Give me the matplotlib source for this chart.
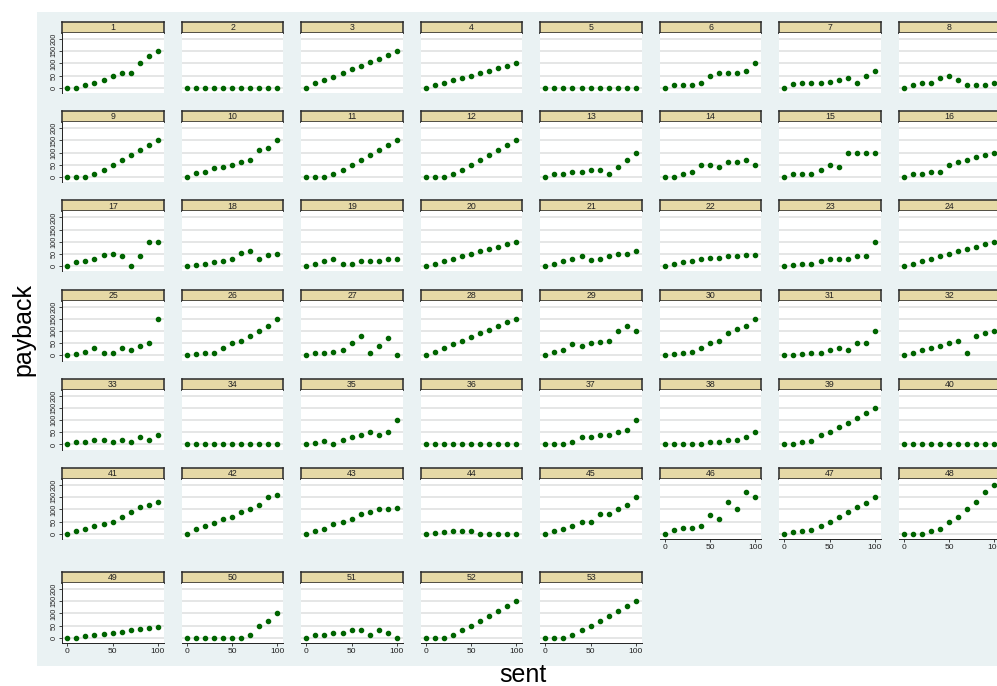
import numpy as np
import matplotlib
matplotlib.use("Agg")
import matplotlib.pyplot as plt
from matplotlib.patches import Rectangle

plt.rcParams['font.family'] = ['Liberation Sans', 'DejaVu Sans']

# amount sent, same for every unit
sent = [0, 10, 20, 30, 40, 50, 60, 70, 80, 90, 100]

# payback per unit
pay_01 = [0, 0, 10, 20, 30, 50, 60, 60, 100, 130, 150]
pay_02 = [0, 0, 0, 0, 0, 0, 0, 0, 0, 0, 0]
pay_03 = [0, 20, 30, 45, 60, 75, 90, 105, 120, 135, 150]
pay_04 = [0, 10, 20, 30, 40, 50, 60, 70, 80, 90, 100]
pay_05 = [0, 0, 0, 0, 0, 0, 0, 0, 0, 0, 0]
pay_06 = [0, 10, 10, 10, 20, 50, 60, 60, 60, 70, 100]
pay_07 = [0, 15, 20, 20, 20, 25, 30, 40, 20, 50, 70]
pay_08 = [0, 10, 20, 20, 40, 50, 30, 10, 10, 10, 20]
pay_09 = [0, 0, 0, 10, 30, 50, 70, 90, 110, 130, 150]
pay_10 = [0, 15, 20, 35, 40, 50, 60, 70, 110, 120, 150]
pay_11 = [0, 0, 0, 10, 30, 50, 70, 90, 110, 130, 150]
pay_12 = [0, 0, 0, 10, 30, 50, 70, 90, 110, 130, 150]
pay_13 = [0, 10, 10, 20, 20, 30, 30, 10, 40, 70, 100]
pay_14 = [0, 0, 10, 20, 50, 50, 40, 60, 60, 70, 50]
pay_15 = [0, 10, 10, 10, 30, 50, 40, 100, 100, 100, 100]
pay_16 = [0, 10, 10, 20, 20, 50, 60, 70, 80, 90, 100]
pay_17 = [0, 15, 20, 30, 45, 50, 40, 0, 40, 100, 100]
pay_18 = [0, 5, 10, 15, 20, 30, 55, 60, 30, 45, 50]
pay_19 = [0, 10, 20, 30, 10, 10, 20, 20, 20, 30, 30]
pay_20 = [0, 10, 20, 30, 40, 50, 60, 70, 80, 90, 100]
pay_21 = [0, 10, 20, 30, 40, 25, 30, 40, 50, 50, 60]
pay_22 = [0, 10, 15, 20, 30, 35, 35, 40, 40, 45, 45]
pay_23 = [0, 5, 10, 10, 20, 30, 30, 30, 40, 40, 100]
pay_24 = [0, 10, 20, 30, 40, 50, 60, 70, 80, 90, 100]
pay_25 = [0, 5, 15, 30, 10, 10, 30, 20, 40, 50, 150]
pay_26 = [0, 5, 10, 10, 30, 50, 60, 80, 100, 120, 150]
pay_27 = [0, 10, 10, 15, 20, 50, 80, 10, 40, 70, 0]
pay_28 = [0, 15, 30, 45, 60, 75, 90, 105, 120, 135, 150]
pay_29 = [0, 15, 20, 45, 40, 50, 55, 60, 100, 120, 100]
pay_30 = [0, 5, 10, 15, 30, 50, 60, 90, 110, 120, 150]
pay_31 = [0, 0, 5, 10, 10, 20, 30, 20, 50, 50, 100]
pay_32 = [0, 10, 20, 30, 40, 50, 60, 10, 80, 90, 100]
pay_33 = [0, 10, 10, 20, 20, 10, 20, 10, 30, 20, 40]
pay_34 = [0, 0, 0, 0, 0, 0, 0, 0, 0, 0, 0]
pay_35 = [0, 5, 15, 0, 20, 30, 40, 50, 40, 50, 100]
pay_36 = [0, 0, 0, 0, 0, 0, 0, 0, 0, 0, 0]
pay_37 = [0, 0, 0, 10, 30, 30, 40, 40, 50, 60, 100]
pay_38 = [0, 0, 0, 0, 0, 10, 10, 20, 20, 30, 50]
pay_39 = [0, 0, 10, 15, 40, 50, 70, 90, 110, 130, 150]
pay_40 = [0, 0, 0, 0, 0, 0, 0, 0, 0, 0, 0]
pay_41 = [0, 10, 20, 30, 40, 50, 70, 90, 110, 120, 130]
pay_42 = [0, 20, 30, 45, 60, 70, 90, 100, 120, 150, 160]
pay_43 = [0, 10, 20, 40, 50, 60, 80, 90, 100, 100, 105]
pay_44 = [0, 3, 5, 10, 10, 10, 0, 0, 0, 0, 0]
pay_45 = [0, 10, 20, 30, 50, 50, 80, 80, 100, 120, 150]
pay_46 = [0, 15, 25, 25, 30, 75, 60, 130, 100, 170, 150]
pay_47 = [0, 5, 10, 15, 30, 50, 70, 90, 110, 125, 150]
pay_48 = [0, 0, 0, 10, 20, 50, 70, 100, 130, 170, 200]
pay_49 = [0, 0, 5, 10, 15, 20, 25, 30, 35, 40, 45]
pay_50 = [0, 0, 0, 0, 0, 0, 0, 10, 50, 70, 100]
pay_51 = [0, 10, 10, 20, 20, 30, 30, 10, 30, 20, 0]
pay_52 = [0, 0, 0, 10, 30, 50, 70, 90, 110, 130, 150]
pay_53 = [0, 0, 0, 10, 30, 50, 70, 90, 110, 130, 150]

units = [pay_01, pay_02, pay_03, pay_04, pay_05, pay_06, pay_07, pay_08,
         pay_09, pay_10, pay_11, pay_12, pay_13, pay_14, pay_15, pay_16,
         pay_17, pay_18, pay_19, pay_20, pay_21, pay_22, pay_23, pay_24,
         pay_25, pay_26, pay_27, pay_28, pay_29, pay_30, pay_31, pay_32,
         pay_33, pay_34, pay_35, pay_36, pay_37, pay_38, pay_39, pay_40,
         pay_41, pay_42, pay_43, pay_44, pay_45, pay_46, pay_47, pay_48,
         pay_49, pay_50, pay_51, pay_52, pay_53]

W, H = 997, 686
fig = plt.figure(figsize=(W/100, H/100), dpi=100)

def frac(x, y, w, h):
    # pixel box (top-left origin) -> figure fraction
    return [x/W, 1 - (y+h)/H, w/W, h/H]

# graph region background (behind all panels)
bg = Rectangle((37/W, 1-666/H), (1005-37)/W, (666-12)/H,
               transform=fig.transFigure, facecolor='#EAF2F3',
               edgecolor='none', zorder=-10)
fig.add_artist(bg)

ncol = 8
n = len(units)
col_x0, col_dx, pw = 62.3, 119.5, 101.5
row_y0, row_dy = 22, 89.2
head_h, plot_h = 11, 60
green = '#006400'

for i, pay in enumerate(units):
    r, c = divmod(i, ncol)
    x = col_x0 + c*col_dx
    y = row_y0 + r*row_dy
    if r == 6:
        y = 572
    # is this the lowest panel in its column?
    bottom = (i + ncol >= n)

    hax = fig.add_axes(frac(x, y, pw, head_h))
    hax.set_facecolor('#E6D9A6')
    hax.set_xticks([])
    hax.set_yticks([])
    for s in hax.spines.values():
        s.set_color('#2A2A2A')
        s.set_linewidth(1.1)
    hax.text(0.5, 0.48, str(i+1), ha='center', va='center', fontsize=6.3,
             color='#222222', transform=hax.transAxes)

    ax = fig.add_axes(frac(x, y+head_h, pw, plot_h))
    ax.set_facecolor('white')
    ax.plot(sent, pay, 'o', color=green, ms=3.0, mec=green, zorder=3,
            clip_on=False)
    ax.set_xlim(-5.5, 106.5)
    ax.set_ylim(-22, 225)
    ax.set_yticks([0, 50, 100, 150, 200])
    ax.set_xticks([0, 50, 100])
    ax.grid(axis='y', color='#E0E2E2', lw=1.2)
    ax.set_axisbelow(True)
    for s in ax.spines.values():
        s.set_visible(False)
    if c == 0:
        ax.spines['left'].set_visible(True)
        ax.spines['left'].set_color('#222222')
        ax.spines['left'].set_linewidth(0.7)
        ax.tick_params(axis='y', length=2.5, width=0.6, pad=1,
                       labelsize=5.3, labelrotation=90, colors='#222222')
        for lab in ax.get_yticklabels():
            lab.set_va('center')
    else:
        ax.tick_params(axis='y', length=0, labelleft=False)
    if bottom:
        ax.spines['bottom'].set_visible(True)
        ax.spines['bottom'].set_color('#222222')
        ax.spines['bottom'].set_linewidth(0.7)
        ax.tick_params(axis='x', length=2.5, width=0.6, pad=1,
                       labelsize=6, colors='#222222')
    else:
        ax.tick_params(axis='x', length=0, labelbottom=False)

fig.text(23/W, 1-330/H, 'payback', rotation=90, ha='center', va='center',
         fontsize=18)
fig.text(523/W, 1-675/H, 'sent', ha='center', va='center', fontsize=18)

fig.savefig('out.png', dpi=100)
